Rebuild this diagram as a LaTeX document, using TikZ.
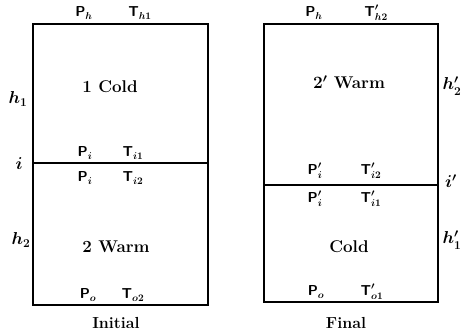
\documentclass[tikz,border=0pt]{standalone}
\usepackage{amsmath}
\usepackage{tikz}
\usetikzlibrary{positioning}
\tikzset{
  tank/.style={line width=2pt, line join=miter},
  divide/.style={line width=1.6pt},
  fluid/.style={font=\fontsize{17}{20}\selectfont\bfseries, inner sep=1pt},
  prop/.style={font=\fontsize{14}{16}\selectfont\boldmath, inner sep=1pt},
  height/.style={font=\fontsize{17}{19}\selectfont\boldmath, inner sep=1pt},
  caption/.style={font=\fontsize{16}{18}\selectfont\bfseries, inner sep=1pt}
}

\begin{document}
\begin{tikzpicture}[x=1pt, y=-1pt]
  \useasboundingbox (0,0) rectangle (462,335);

  % Initial tank
  \coordinate (iTL) at (33,24);
  \coordinate (iBR) at (208,305);
  \coordinate (iDL) at (33,163);
  \coordinate (iDR) at (208,163);
  \draw[tank] (iTL) rectangle (iBR);
  \draw[divide] (iDL) -- (iDR);

  \node[prop] (iPh) at (84,13) {$\mathsf{P}_{h}$};
  \node[prop] (iTh) at (140,13) {$\mathsf{T}_{h1}$};
  \node[fluid] (iCold) at (110,87) {1 Cold};
  \node[prop] (iPi1) at (85,153) {$\mathsf{P}_{i}$};
  \node[prop] (iTi1) at (133,153) {$\mathsf{T}_{i1}$};
  \node[prop] (iPi2) at (85,178) {$\mathsf{P}_{i}$};
  \node[prop] (iTi2) at (133,178) {$\mathsf{T}_{i2}$};
  \node[fluid] (iWarm) at (116,247) {2 Warm};
  \node[prop] (iPo) at (88,295) {$\mathsf{P}_{o}$};
  \node[prop] (iTo) at (133,295) {$\mathsf{T}_{o2}$};
  \node[height] (ih1) at (18,99) {$h_1$};
  \node[height] (ii) at (19,164) {$i$};
  \node[height] (ih2) at (21,240) {$h_2$};
  \node[caption] (initial) at (116,323) {Initial};

  % Final tank
  \coordinate (fTL) at (264,24);
  \coordinate (fBR) at (438,302);
  \coordinate (fDL) at (264,185);
  \coordinate (fDR) at (438,185);
  \draw[tank] (fTL) rectangle (fBR);
  \draw[divide] (fDL) -- (fDR);

  \node[prop] (fPh) at (314,13) {$\mathsf{P}_{h}$};
  \node[prop] (fTh) at (376,13) {$\mathsf{T}'_{h2}$};
  \node[fluid] (fWarm) at (349,82) {$\boldsymbol{2'}$ Warm};
  \node[prop] (fPi1) at (315,171) {$\mathsf{P}'_{i}$};
  \node[prop] (fTi1) at (371,171) {$\mathsf{T}'_{i2}$};
  \node[prop] (fPi2) at (315,199) {$\mathsf{P}'_{i}$};
  \node[prop] (fTi2) at (371,199) {$\mathsf{T}'_{i1}$};
  \node[fluid] (fCold) at (349,247) {Cold};
  \node[prop] (fPo) at (316,292) {$\mathsf{P}_{o}$};
  \node[prop] (fTo) at (372,292) {$\mathsf{T}'_{o1}$};
  \node[height] (fh2) at (452,86) {$h'_2$};
  \node[height] (fi) at (451,181) {$i'$};
  \node[height] (fh1) at (452,240) {$h'_1$};
  \node[caption] (final) at (346,323) {Final};
\end{tikzpicture}
\end{document}
